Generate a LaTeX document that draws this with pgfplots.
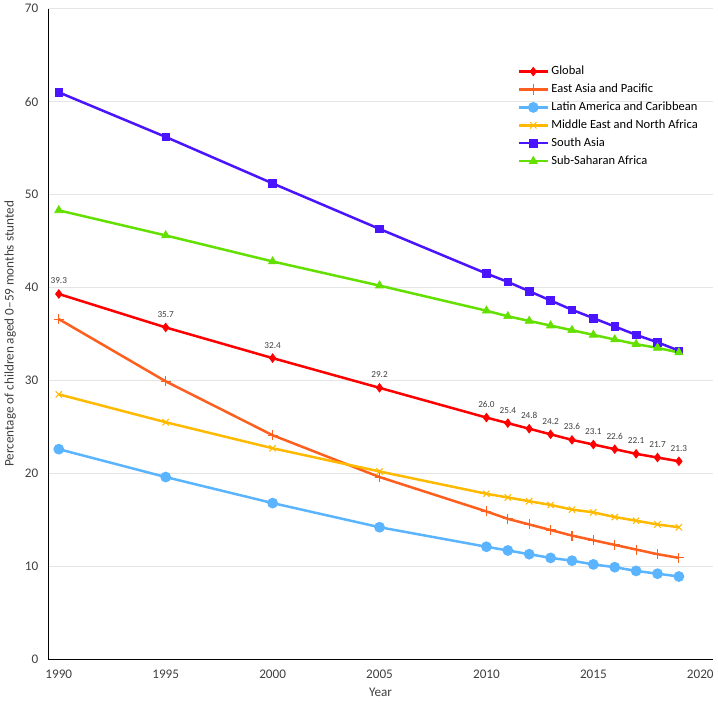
\documentclass[border=0pt]{standalone}
\usepackage{pgfplots}
\pgfplotsset{compat=1.18}
\usepackage{fontspec}
\setmainfont{Carlito}
\definecolor{cGlobal}{RGB}{255,0,0}
\definecolor{cEAP}{RGB}{255,95,30}
\definecolor{cLAC}{RGB}{90,180,255}
\definecolor{cMENA}{RGB}{255,186,0}
\definecolor{cSA}{RGB}{75,20,255}
\definecolor{cSSA}{RGB}{100,224,0}
\definecolor{txt}{RGB}{64,64,64}
\begin{document}
\begin{tikzpicture}
\begin{axis}[
  scale only axis,
  width=505pt, height=494pt,
  xmin=1989.5, xmax=2020.6,
  ymin=0, ymax=70,
  xtick={1990,1995,...,2020},
  ytick={0,10,...,70},
  xticklabel style={/pgf/number format/1000 sep={}},
  /pgf/number format/assume math mode=true,
  tick label style={font=\fontsize{10}{11}\selectfont, text=txt},
  ymajorgrids, grid style={gray!20, line width=0.6pt},
  axis x line*=bottom, axis y line*=left,
  axis line style={black, line width=0.8pt, -},
  major tick length=0pt,
  xticklabel shift=5pt, yticklabel shift=4pt,
  xlabel={Year}, ylabel={Percentage of children aged 0--59 months stunted},
  label style={font=\fontsize{10}{11}\selectfont, text=txt},
  every axis plot/.append style={line width=1.9pt},
  legend style={at={(0.70,0.92)}, anchor=north west, draw=none, fill=none,
    font=\fontsize{9.5}{11}\selectfont, row sep=1.5pt, text=black},
  legend cell align=left,
  legend image code/.code={\draw[mark repeat=2,mark phase=2] plot coordinates {(0cm,0cm) (0.38cm,0cm) (0.76cm,0cm)};},
]
\addplot[color=cGlobal, mark=diamond*, mark size=3.3pt, mark options={line width=0.5pt},
  nodes near coords={\pgfmathprintnumber[fixed,fixed zerofill,precision=1]{\pgfplotspointmeta}},
  every node near coord/.append style={font=\fontsize{7}{8}\selectfont, text=txt, anchor=south, yshift=4pt},
  point meta=explicit] table[meta=v] {
x y v
1990 39.3 39.3
1995 35.7 35.7
2000 32.4 32.4
2005 29.2 29.2
2010 26.0 26.0
2011 25.4 25.4
2012 24.8 24.8
2013 24.2 24.2
2014 23.6 23.6
2015 23.1 23.1
2016 22.6 22.6
2017 22.1 22.1
2018 21.7 21.7
2019 21.3 21.3
};
\addlegendentry{Global}
\addplot[color=cEAP, mark=+, mark size=3.8pt, mark options={line width=0.8pt}] coordinates {
(1990,36.6) (1995,29.9) (2000,24.1) (2005,19.6) (2010,15.9) (2011,15.1) (2012,14.5) (2013,13.9) (2014,13.3) (2015,12.8) (2016,12.3) (2017,11.8) (2018,11.3) (2019,10.9)
};
\addlegendentry{East Asia and Pacific}
\addplot[color=cLAC, mark=*, mark size=3.1pt] coordinates {
(1990,22.6) (1995,19.6) (2000,16.8) (2005,14.2) (2010,12.1) (2011,11.7) (2012,11.3) (2013,10.9) (2014,10.6) (2015,10.2) (2016,9.9) (2017,9.5) (2018,9.2) (2019,8.9)
};
\addlegendentry{Latin America and Caribbean}
\addplot[color=cMENA, mark=x, mark size=3.4pt, mark options={line width=0.8pt}] coordinates {
(1990,28.5) (1995,25.5) (2000,22.7) (2005,20.2) (2010,17.8) (2011,17.4) (2012,17.0) (2013,16.6) (2014,16.1) (2015,15.8) (2016,15.3) (2017,14.9) (2018,14.5) (2019,14.2)
};
\addlegendentry{Middle East and North Africa}
\addplot[color=cSA, mark=square*, mark size=2.9pt, mark options={line width=0.5pt}] coordinates {
(1990,61.0) (1995,56.2) (2000,51.2) (2005,46.3) (2010,41.5) (2011,40.6) (2012,39.6) (2013,38.6) (2014,37.6) (2015,36.7) (2016,35.8) (2017,34.9) (2018,34.1) (2019,33.2)
};
\addlegendentry{South Asia}
\addplot[color=cSSA, mark=triangle*, mark size=3.6pt, mark options={line width=0.5pt}] coordinates {
(1990,48.3) (1995,45.6) (2000,42.8) (2005,40.2) (2010,37.5) (2011,36.9) (2012,36.4) (2013,35.9) (2014,35.4) (2015,34.9) (2016,34.4) (2017,33.9) (2018,33.5) (2019,33.0)
};
\addlegendentry{Sub-Saharan Africa}
\end{axis}
\end{tikzpicture}
\end{document}
